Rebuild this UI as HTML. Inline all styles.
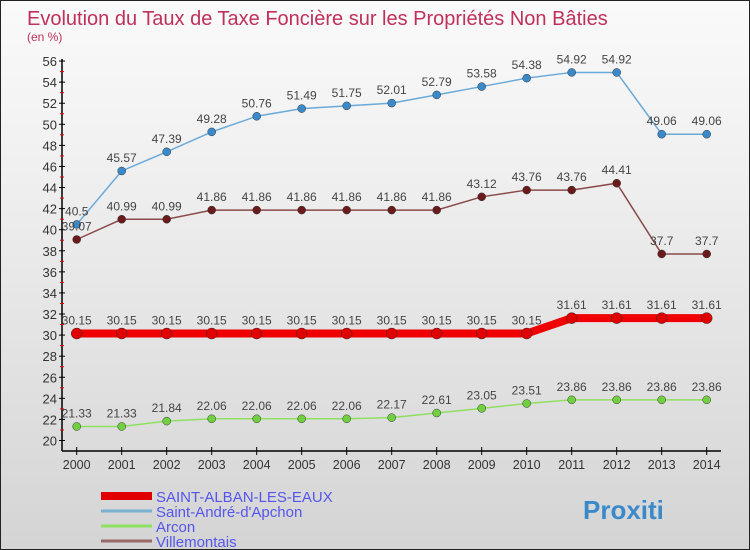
<!DOCTYPE html>
<html><head><meta charset="utf-8"><style>
body{margin:0}
#c{position:relative;width:750px;height:550px;box-sizing:border-box;border:1px solid #222;background:linear-gradient(#fafafa,#f0f0f0 30%,#d4d4d4);font-family:"Liberation Sans",sans-serif;overflow:hidden}
svg{position:absolute;left:0;top:0}
</style></head><body>
<div id="c">
<svg id="s" width="750" height="550">
<text x="26" y="24" font-size="20" fill="#c0305a">Evolution du Taux de Taxe Foncière sur les Propriétés Non Bâties</text>
<text x="26" y="40" font-size="12" fill="#c0305a">(en %)</text>
</svg>
</div>
<script>
const years=[2000,2001,2002,2003,2004,2005,2006,2007,2008,2009,2010,2011,2012,2013,2014];
const yTicks=[20,22,24,26,28,30,32,34,36,38,40,42,44,46,48,50,52,54,56];
const alban=[30.15,30.15,30.15,30.15,30.15,30.15,30.15,30.15,30.15,30.15,30.15,31.61,31.61,31.61,31.61];
const andre=[40.5,45.57,47.39,49.28,50.76,51.49,51.75,52.01,52.79,53.58,54.38,54.92,54.92,49.06,49.06];
const arcon=[21.33,21.33,21.84,22.06,22.06,22.06,22.06,22.17,22.61,23.05,23.51,23.86,23.86,23.86,23.86];
const ville=[39.07,40.99,40.99,41.86,41.86,41.86,41.86,41.86,41.86,43.12,43.76,43.76,44.41,37.7,37.7];
const names=["SAINT-ALBAN-LES-EAUX","Saint-André-d'Apchon","Arcon","Villemontais"];
const NS="http://www.w3.org/2000/svg",s=document.getElementById('s');
const X=i=>75.7+i*45,Y=v=>439.5-(v-20)*10.54;
function mk(t,a,p){const e=document.createElementNS(NS,t);for(const k in a)e.setAttribute(k,a[k]);(p||s).appendChild(e);return e;}
let ax=mk('line',{x1:61,y1:58,x2:61,y2:450,stroke:'#000','stroke-width':1.5});


let xx=mk('line',{x1:61,y1:450,x2:720,y2:450,stroke:'#000','stroke-width':1.5});


yTicks.forEach(v=>{mk('line',{x1:58,y1:Y(v),x2:64,y2:Y(v),stroke:'#000'});if(v<56)mk('line',{x1:59,y1:Y(v+1),x2:63,y2:Y(v+1),stroke:'#e00'});
const t=mk('text',{x:56,y:Y(v)+5,'font-size':13,'text-anchor':'end',fill:'#333'});t.textContent=v;

});
years.forEach((y,i)=>{mk('line',{x1:X(i),y1:446,x2:X(i),y2:454,stroke:'#000'});const t=mk('text',{x:X(i),y:468,'font-size':12.5,'text-anchor':'middle',fill:'#333'});t.textContent=y;

});
function series(d,col,dot,lw,r,nm,fs){
const g=mk('g',{});


mk('polyline',{points:d.map((v,i)=>X(i)+','+Y(v)).join(' '),fill:'none',stroke:col,'stroke-width':lw},g);
d.forEach((v,i)=>{const c=mk('circle',{cx:X(i),cy:Y(v),r:r,fill:dot,stroke:'#333','stroke-width':0.5},g);


const t=mk('text',{x:X(i),y:Y(v)-9,'font-size':fs,'text-anchor':'middle',fill:'#444'},g);t.textContent=v;});}
series(andre,'#6aaad8','#3a8acb',1.5,4,'series-saint-andre',12);
series(ville,'#8a4a4a','#6a1a1a',1.5,4,'series-villemontais',12);
series(arcon,'#90e060','#70d040',1.5,4,'series-arcon',12);
series(alban,'#f00000','#e00000',8,5.5,'series-saint-alban',12);
const lc=['#e00000','#7ab0d0','#90e060','#9a6a6a'],lw=[8,3,3,3];
names.forEach((n,i)=>{const y=493+i*15;const g=mk('g',{});


mk('line',{x1:100,y1:y+2,x2:151,y2:y+2,stroke:lc[i],'stroke-width':lw[i]},g);
const t=mk('text',{x:155,y:y+8,'font-size':15,fill:'#5555ee'},g);t.textContent=n;});
const lg=mk('text',{x:582,y:518,'font-size':26,'font-weight':'bold',fill:'#3a8acb'});lg.textContent='Proxiti';


</script>
</body></html>
